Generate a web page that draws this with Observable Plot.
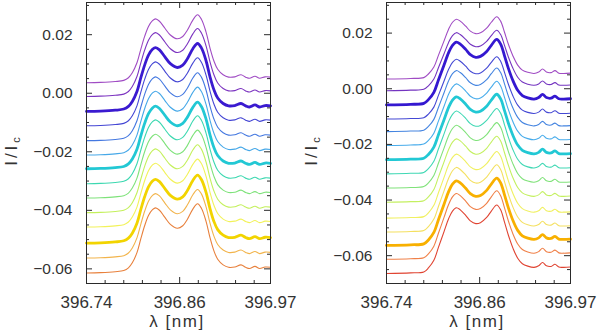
<!DOCTYPE html>
<html><head><meta charset="utf-8">
<script src="https://cdn.jsdelivr.net/npm/d3@7"></script>
<script src="https://cdn.jsdelivr.net/npm/@observablehq/plot@0.6"></script>
<style>
body{margin:0;background:#fff;}
#wrap{display:flex;width:600px;height:335px;}
</style></head><body><div id="wrap"></div>
<script>
// ---- Left panel ----
const lambdaL = [396.740,396.758,396.777,396.788,396.794,396.799,396.805,396.810,396.815,396.820,396.825,396.829,396.834,396.841,396.848,396.857,396.864,396.870,396.877,396.883,396.888,396.894,396.899,396.904,396.909,396.916,396.923,396.931,396.939,396.945,396.950,396.957,396.963,396.970,396.977];
const shapeL = [0,0.0001,0.0004,0.0008,0.0017,0.0034,0.0068,0.0115,0.0159,0.0193,0.0212,0.0218,0.0210,0.0186,0.0163,0.0150,0.0158,0.0180,0.0214,0.0232,0.0217,0.0173,0.0119,0.0075,0.0046,0.0027,0.0019,0.0020,0.0027,0.0019,0.0015,0.0022,0.0015,0.0020,0.0019];
const offsetsL = [0.0036,-0.0011,-0.0062,-0.0111,-0.0162,-0.0211,-0.0258,-0.0309,-0.0358,-0.0408,-0.0457,-0.0512,-0.0563,-0.0614];
const ampL = [1.0,1.0,1.0,1.0,1.0,1.0,0.98,1.0,1.0,1.0,1.0,1.0,1.01,1.02];
const colorsL = ["#a04cc4","#7c34c0","#3a1ad0","#4446d4","#4478e0","#46a8e8","#22c8d4","#3cd8b0","#7ee27a","#c4f05c","#f2f25a","#f2d400","#f2b44c","#e8803c"];
const widthsL = [1.1,1.1,2.8,1.1,1.1,1.1,2.8,1.1,1.1,1.1,1.1,2.8,1.1,1.1];
const yDomainL = [-0.065, 0.031];

// ---- Right panel ----
const lambdaR = [396.740,396.771,396.788,396.794,396.801,396.807,396.814,396.820,396.825,396.830,396.835,396.842,396.848,396.855,396.861,396.869,396.875,396.882,396.887,396.892,396.897,396.903,396.909,396.915,396.922,396.930,396.936,396.941,396.946,396.952,396.957,396.962,396.968,396.977];
const shapeR = [0,0.0002,0.0005,0.0018,0.0043,0.0086,0.0136,0.0179,0.0204,0.0215,0.0208,0.0190,0.0172,0.0163,0.0166,0.0183,0.0204,0.0224,0.0208,0.0168,0.0125,0.0082,0.0050,0.0032,0.0024,0.0020,0.0025,0.0036,0.0025,0.0023,0.0030,0.0021,0.0020,0.0021];
const offsetsR = [0.0035,-0.0007,-0.0058,-0.0109,-0.0154,-0.0204,-0.0255,-0.0306,-0.0357,-0.0408,-0.0465,-0.0515,-0.0563,-0.0613,-0.0664];
const ampR = [1.0,0.97,1.05,1.0,1.02,1.03,1.05,1.05,1.05,1.06,1.07,1.08,1.08,1.1,1.1];
const colorsR = ["#a04cc4","#7434c0","#3418d0","#4448d4","#4484e0","#48aceb","#22c8d4","#40d8b4","#80e27a","#c4f060","#f0f060","#f4e060","#f8b000","#f08048","#e04432"];
const widthsR = [1.1,1.1,2.8,1.1,1.1,1.1,2.8,1.1,1.1,1.1,1.1,1.1,2.8,1.1,1.1];
const yDomainR = [-0.070, 0.031];

// ---- Axes ----
const xDomain = [396.74, 396.977];
const xMajor = [396.74, 396.86, 396.977];
const xMajorLabels = ["396.74", "396.86", "396.97"];
const xMinor = [396.764, 396.788, 396.812, 396.836, 396.884, 396.908, 396.932, 396.956];
const yMajor = [0.02, 0.00, -0.02, -0.04, -0.06];
const yMinor = [0.030,0.025,0.015,0.010,0.005,-0.005,-0.010,-0.015,-0.025,-0.030,-0.035,-0.045,-0.050,-0.055,-0.065];

const FONT = "'Liberation Sans', Arial, Helvetica, sans-serif";
const INK = "#2a2a2a";
const TXT = "#333";

function panel(lambda, shape, offsets, amp, colors, widths, yDomain) {
  const W = 300, H = 335, mt = 2, mb = 52, ml = 86, mr = 30;
  const fh = H - mt - mb, fw = W - ml - mr;
  const rows = [];
  offsets.forEach((off, k) => lambda.forEach((l, i) => rows.push({k, l, v: off + amp[k] * shape[i]})));
  const yMin = yMinor.filter(d => d >= yDomain[0] && d <= yDomain[1]);
  const plot = Plot.plot({
    width: W, height: H,
    marginTop: mt, marginBottom: mb, marginLeft: ml, marginRight: mr,
    style: {fontFamily: FONT, background: "#fff", overflow: "visible"},
    x: {domain: xDomain, axis: null},
    y: {domain: yDomain, axis: null},
    marks: [
      ...offsets.map((_, k) => Plot.line(rows.filter(r => r.k === k), {
        x: "l", y: "v", stroke: colors[k], strokeWidth: widths[k], curve: "catmull-rom"
      })),
      Plot.frame({stroke: INK, strokeWidth: 1}),
      Plot.tickX(xMinor, {x: d => d, insetTop: fh - 3, stroke: INK}),
      Plot.tickX(xMinor, {x: d => d, insetBottom: fh - 3, stroke: INK}),
      Plot.tickX(xMajor, {x: d => d, insetTop: fh - 6, stroke: INK}),
      Plot.tickX(xMajor, {x: d => d, insetBottom: fh - 6, stroke: INK}),
      Plot.tickY(yMin, {y: d => d, insetRight: fw - 3, stroke: INK}),
      Plot.tickY(yMin, {y: d => d, insetLeft: fw - 3, stroke: INK}),
      Plot.tickY(yMajor, {y: d => d, insetRight: fw - 6, stroke: INK}),
      Plot.tickY(yMajor, {y: d => d, insetLeft: fw - 6, stroke: INK}),
      Plot.text(xMajor, {x: d => d, text: (d, i) => xMajorLabels[i], frameAnchor: "bottom", dy: 12,
        lineAnchor: "top", fontSize: 17, fill: TXT}),
      Plot.text(yMajor, {y: d => d, text: d => d3.format(".2f")(d), frameAnchor: "left", dx: -14,
        textAnchor: "end", fontSize: 15.5, fill: TXT})
    ]
  });
  const svg = d3.select(plot);
  const yl = svg.append("text")
    .attr("transform", "translate(17,150) rotate(-90)")
    .attr("text-anchor", "middle").attr("font-size", 17).attr("fill", TXT)
    .attr("font-family", FONT).attr("letter-spacing", "3px");
  yl.append("tspan").text("I/I");
  yl.append("tspan").attr("font-size", 11).attr("dy", 3).text("c");
  svg.append("text")
    .attr("x", 177).attr("y", 327)
    .attr("text-anchor", "middle").attr("font-size", 17).attr("fill", TXT)
    .attr("font-family", FONT).attr("letter-spacing", "1.5px")
    .text("λ [nm]");
  return plot;
}

const wrap = document.getElementById("wrap");
wrap.appendChild(panel(lambdaL, shapeL, offsetsL, ampL, colorsL, widthsL, yDomainL));
wrap.appendChild(panel(lambdaR, shapeR, offsetsR, ampR, colorsR, widthsR, yDomainR));
</script>
</body></html>
